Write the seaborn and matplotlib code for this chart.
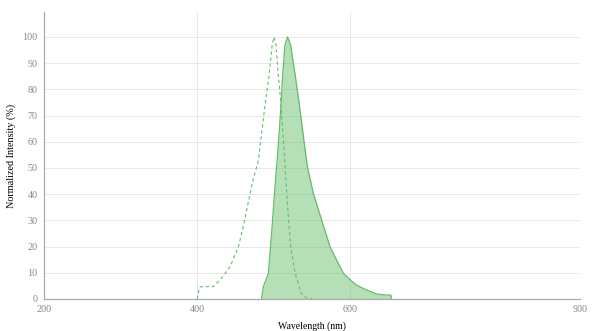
import matplotlib
matplotlib.use("Agg")
import matplotlib.pyplot as plt
import seaborn as sns
import pandas as pd

# Excitation spectrum (dashed)
ex_wl = [400, 403, 406, 421, 432, 443, 454, 462, 471, 480, 488.6, 494, 498, 500.4, 503, 506, 509.6, 513.4, 517, 522, 528, 536, 542, 550]
ex_val = [0, 4.5, 4.7, 4.7, 7.9, 12.3, 20, 30, 43, 53, 74, 85.5, 97, 100, 97, 85.5, 74, 57, 40, 20, 9.8, 2.2, 0.5, 0]

# Emission spectrum (filled)
em_wl = [484, 486.5, 493, 497, 501.7, 505, 507.5, 509.5, 511.7, 514.7, 518, 522, 528, 533.5, 541, 544, 551.7, 562.7, 573.5, 582, 591, 600, 608, 621.5, 634.5, 647.6, 653, 654]
em_val = [0, 4.7, 9.8, 24, 43, 55, 65, 74, 85.5, 97, 100, 97, 85.5, 74, 57, 50.5, 40.3, 30, 20, 14.9, 9.8, 7.3, 5.3, 3.4, 1.9, 1.5, 1.5, 0]

x_ticks = [200, 400, 600, 900]
y_ticks = list(range(0, 101, 10))

sns.set_theme(style="whitegrid")
plt.rcParams['font.family'] = ['Liberation Serif', 'DejaVu Serif']

fig = plt.figure(figsize=(6, 3.31), dpi=100)
ax = fig.add_axes([0.0733, 0.0967, 0.8934, 0.867])

line_green = "#66bb6a"
ex_df = pd.DataFrame({"wl": ex_wl, "val": ex_val})
em_df = pd.DataFrame({"wl": em_wl, "val": em_val})

ax.fill_between(em_df["wl"], em_df["val"], 0, color="#6cc070", alpha=0.5, linewidth=0)
sns.lineplot(data=em_df, x="wl", y="val", ax=ax, color=line_green, linewidth=0.9, sort=False)
sns.lineplot(data=ex_df, x="wl", y="val", ax=ax, color=line_green, linewidth=0.8, linestyle=(0, (3, 2.5)), sort=False)

ax.set_xlim(200, 900)
ax.set_ylim(0, 109.5)
ax.set_xticks(x_ticks)
ax.set_yticks(y_ticks)
ax.set_xlabel("Wavelength (nm)", fontsize=7, color="black", labelpad=5)
ax.set_ylabel("Normalized Intensity (%)", fontsize=7.3, color="black", labelpad=5)
ax.tick_params(axis="both", labelsize=7.3, colors="#888888", length=3, width=0.6, pad=1.5)
ax.tick_params(axis="both", direction="out")
ax.grid(True, color="#e8e8e8", linewidth=0.7)
for s in ["top", "right"]:
    ax.spines[s].set_visible(False)
for s in ["left", "bottom"]:
    ax.spines[s].set_visible(True)
    ax.spines[s].set_color("#aaaaaa")
    ax.spines[s].set_linewidth(0.9)
ax.set_facecolor("white")

fig.savefig("out.png", dpi=100)
